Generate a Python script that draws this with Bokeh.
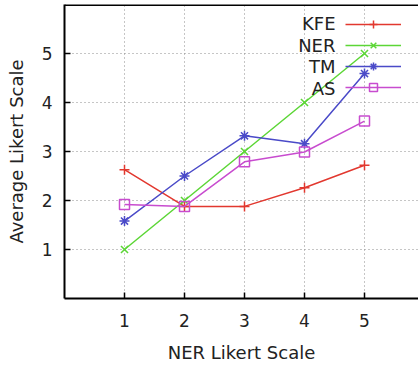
from bokeh.plotting import figure
from bokeh.models import Range1d, FixedTicker, Span, Legend, LegendItem, Label
from bokeh.embed import file_html
from bokeh.resources import INLINE

# ---- data ----
x_levels = [1, 2, 3, 4, 5]
kfe = [2.63, 1.88, 1.88, 2.26, 2.72]
ner = [1.0, 2.0, 3.0, 4.0, 5.0]
tm = [1.58, 2.50, 3.32, 3.16, 4.59]
as_vals = [1.92, 1.88, 2.79, 2.99, 3.62]
series_names = ["KFE", "NER", "TM", "AS"]
x_ticks = [1, 2, 3, 4, 5]
y_ticks = [1, 2, 3, 4, 5]

series = [kfe, ner, tm, as_vals]
colors = ["#e2382f", "#5cd636", "#4a4ac8", "#c84ccf"]
markers = ["cross", "x", "asterisk", "square"]
FONT = "DejaVu Sans"

X_END, Y_END = 5.9, 6.0
p = figure(width=418, height=367, x_range=Range1d(0, X_END), y_range=Range1d(0, Y_END),
           output_backend="svg", toolbar_location=None,
           min_border_left=64, min_border_right=0, min_border_top=4, min_border_bottom=69)
p.outline_line_color = None
p.background_fill_color = "white"
p.border_fill_color = "white"

for ax, ticks in ((p.xaxis[0], x_ticks), (p.yaxis[0], y_ticks)):
    ax.ticker = FixedTicker(ticks=ticks)
    ax.axis_line_width = 2
    ax.axis_line_color = "black"
    ax.major_tick_in = 6
    ax.major_tick_out = 0
    ax.major_tick_line_width = 1.5
    ax.minor_tick_line_color = None
    ax.major_label_text_font = FONT
    ax.major_label_text_font_size = "17px"
    ax.major_label_text_color = "#222222"
    ax.axis_label_text_font = FONT
    ax.axis_label_text_font_size = "18px"
    ax.axis_label_text_font_style = "normal"
    ax.axis_label_text_color = "#222222"

p.xaxis.axis_label = "NER Likert Scale"
p.yaxis.axis_label = "Average Likert Scale"
p.xaxis.major_label_standoff = 15
p.xaxis.axis_label_standoff = 12
p.yaxis.major_label_standoff = 12
p.yaxis.axis_label_standoff = 12

for g in (p.xgrid[0], p.ygrid[0]):
    g.grid_line_color = "#8c8c8c"
    g.grid_line_dash = "1 3"
    g.grid_line_width = 1

p.add_layout(Span(location=Y_END, dimension="width", line_color="black", line_width=3))

items = []
for vals, col, mk in zip(series, colors, markers):
    r1 = p.line(x_levels, vals, line_color=col, line_width=1.5)
    r2 = p.scatter(x_levels, vals, marker=mk, size=10, line_color=col, fill_color=None, line_width=1.5)
    items.append(LegendItem(label=" ", renderers=[r1, r2]))

legend = Legend(items=items, location=(281, 201), padding=0, margin=0, spacing=1,
                glyph_width=56, glyph_height=20, label_height=20, label_width=0,
                label_standoff=0, label_text_font_size="1px",
                background_fill_alpha=0, border_line_color=None)
p.add_layout(legend)

# legend text (right aligned, left of sample), positioned in frame px converted to data
row_px = [19.3, 41.0, 62.3, 83.6]   # distance from frame top, px
frame_h = 294.0
for name, rp in zip(series_names, row_px):
    p.add_layout(Label(x=(335 - 64) / 60.0, y=Y_END - rp / frame_h * Y_END, text=name,
                       text_align="right", text_baseline="middle",
                       text_font=FONT, text_font_size="18px", text_color="#222222"))

open("out.html", "w").write(file_html(p, INLINE))
